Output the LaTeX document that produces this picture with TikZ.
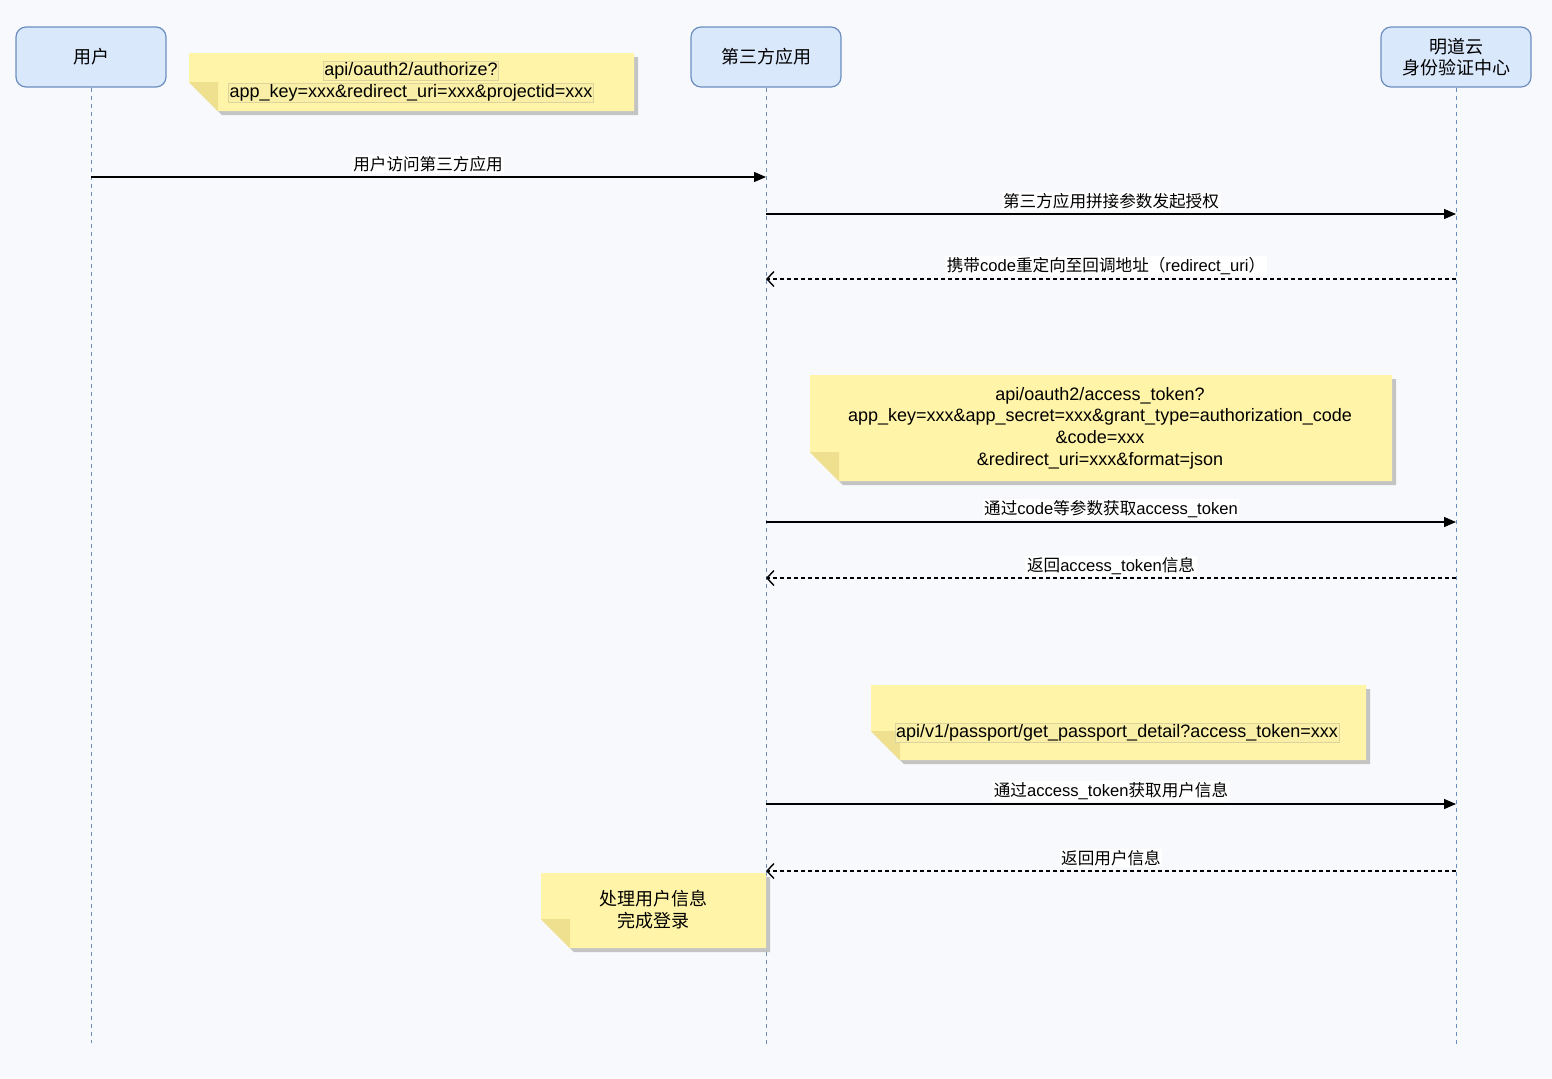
\documentclass[tikz,border=0pt]{standalone}
\usepackage{fontspec}
\setmainfont{Liberation Sans}
\newfontfamily\cjk{Noto Sans CJK SC}
\usetikzlibrary{arrows.meta}
\definecolor{bg}{HTML}{F8F9FC}
\definecolor{actfill}{HTML}{DAE8FC}
\definecolor{actline}{HTML}{6C8EBF}
\definecolor{notefill}{HTML}{FFF4A8}
\definecolor{notefold}{HTML}{EEE08E}
\definecolor{noteshadow}{HTML}{C4C4C4}
\definecolor{lblbox}{HTML}{DCD49C}
\newcommand\notebox[4]{%
  \fill[noteshadow] (#1+4,#2+4) -- (#3+4,#2+4) -- (#3+4,#4+4) -- (#1+33,#4+4) -- (#1+4,#4-25) -- cycle;
  \fill[notefill] (#1,#2) -- (#3,#2) -- (#3,#4) -- (#1+29,#4) -- (#1,#4-29) -- cycle;
  \fill[notefold] (#1,#4-29) -- (#1+29,#4-29) -- (#1+29,#4) -- cycle;
}
\tikzset{
  actor/.style={draw=actline, fill=actfill, rounded corners=5pt, minimum width=75pt,
    minimum height=30pt, align=center, font=\fontsize{9}{10.5}\selectfont\cjk, line width=0.6pt},
  life/.style={draw=actline, dash pattern=on 2pt off 2pt, line width=0.5pt},
  msg/.style={line width=0.6pt, -{Triangle[length=6pt,width=5pt]}},
  ret/.style={line width=0.6pt, dash pattern=on 2pt off 1.5pt, -{Straight Barb[length=3.5pt,width=7.5pt,line width=0.7pt]}},
  lbl/.style={fill=white, inner sep=0.8pt, font=\fontsize{8.3}{9.5}\selectfont},
  notetext/.style={align=center, font=\fontsize{9}{10.8}\selectfont, inner sep=0pt},
  boxed/.style={notetext, draw=lblbox, fill=notefill!85!lblbox, line width=0.4pt, inner sep=0.6pt},
}
\begin{document}
\begin{tikzpicture}[x=0.5pt,y=-0.5pt]
\fill[bg] (0,0) rectangle (1552,1078);
\useasboundingbox (0,0) rectangle (1552,1078);

% actors
\node[actor] (user) at (91,57) {用户};
\node[actor] (app) at (766,57) {第三方应用};
\node[actor] (mdy) at (1456,57) {明道云\\身份验证中心};

\coordinate (userEnd) at (91,1043);
\coordinate (appEnd) at (766,1047);
\coordinate (mdyEnd) at (1456,1047);
\draw[life] (user.south) -- (userEnd);
\draw[life] (app.south) -- (appEnd);
\draw[life] (mdy.south) -- (mdyEnd);

% note 1
\notebox{189}{53}{634}{111}
\node[boxed] (n1a) at (411,71) {api/oauth2/authorize?};
\node[boxed] (n1b) at (411,93) {app\_key=xxx\&redirect\_uri=xxx\&projectid=xxx};

% message points
\coordinate (u1) at (91,177);   \coordinate (a1) at (766,177);
\coordinate (a2) at (766,214);  \coordinate (m2) at (1456,214);
\coordinate (m3) at (1456,279); \coordinate (a3) at (766,279);
\coordinate (a4) at (766,522);  \coordinate (m4) at (1456,522);
\coordinate (m5) at (1456,578); \coordinate (a5) at (766,578);
\coordinate (a6) at (766,804);  \coordinate (m6) at (1456,804);
\coordinate (m7) at (1456,871); \coordinate (a7) at (766,871);

\draw[msg] (u1) -- (a1);
\node[lbl] (l1) at (428,164) {\cjk 用户访问第三方应用};

\draw[msg] (a2) -- (m2);
\node[lbl] (l2) at (1111,201) {\cjk 第三方应用拼接参数发起授权};

\draw[ret] (m3) -- (a3);
\node[lbl] (l3) at (1106,266) {{\cjk 携带}code{\cjk 重定向至回调地址（}redirect\_uri{\cjk ）}};

% note 2
\notebox{810}{375}{1392}{481}
\node[notetext] (n2) at (1100,428) {api/oauth2/access\_token?\\app\_key=xxx\&app\_secret=xxx\&grant\_type=authorization\_code\\\&code=xxx\\\&redirect\_uri=xxx\&format=json};

\draw[msg] (a4) -- (m4);
\node[lbl] (l4) at (1111,509) {{\cjk 通过}code{\cjk 等参数获取}access\_token};

\draw[ret] (m5) -- (a5);
\node[lbl] (l5) at (1111,566) {{\cjk 返回}access\_token{\cjk 信息}};

% note 3
\notebox{871}{685}{1366}{760}
\node[boxed] (n3) at (1117,733) {api/v1/passport/get\_passport\_detail?access\_token=xxx};

\draw[msg] (a6) -- (m6);
\node[lbl] (l6) at (1111,791) {{\cjk 通过}access\_token{\cjk 获取用户信息}};

\draw[ret] (m7) -- (a7);
\node[lbl] (l7) at (1111,858) {\cjk 返回用户信息};

% note 4
\notebox{541}{873}{766}{948}
\node[notetext, font=\fontsize{9}{11}\selectfont\cjk] (n4) at (653,910) {处理用户信息\\完成登录};
\end{tikzpicture}
\end{document}
